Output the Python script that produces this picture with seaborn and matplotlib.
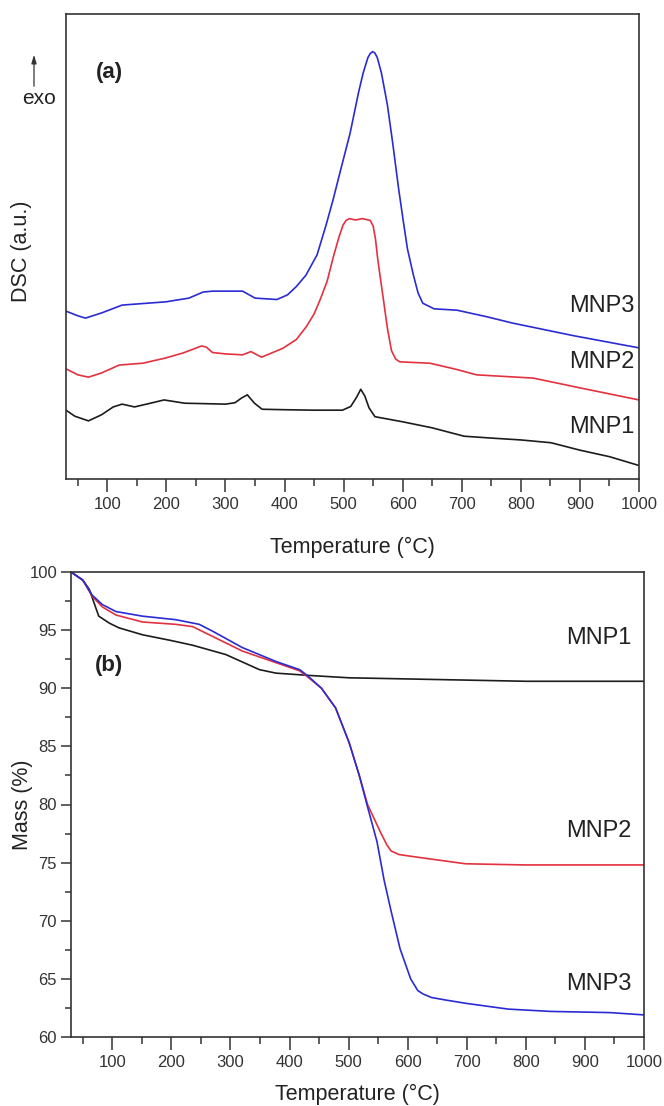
import numpy as np
import pandas as pd
import matplotlib.pyplot as plt
import seaborn as sns
from matplotlib.ticker import MultipleLocator, NullLocator

samples = ['MNP1', 'MNP2', 'MNP3']
colors = {'MNP1': '#1c1c1c', 'MNP2': '#e3313f', 'MNP3': '#2b2bd3'}

# (a) DSC traces, arbitrary units
dsc_t_mnp1 = [30, 45, 68, 90, 110, 125, 146, 173, 196, 231, 300, 316, 327, 337, 349, 362, 400, 450, 498,
              512, 522, 529, 536, 543, 553, 600, 650, 704, 750, 800, 851, 900, 950, 1000]
dsc_mnp1 = [14.8, 13.5, 12.5, 13.8, 15.5, 16.1, 15.5, 16.3, 17.0, 16.3, 16.1, 16.4, 17.4, 18.1, 16.3, 15.0, 14.9,
            14.8, 14.8, 15.6, 17.6, 19.3, 17.8, 15.3, 13.4, 12.3, 11.0, 9.2, 8.8, 8.4, 7.8, 6.2, 4.8, 2.9]

dsc_t_mnp2 = [30, 50, 68, 90, 120, 160, 198, 228, 247, 259, 267, 278, 300, 329, 343, 361, 397, 420, 437, 450,
              460, 472, 482, 492, 499, 504, 510, 520, 532, 545, 550, 554, 558, 567, 574, 581, 588, 595, 646, 690,
              725, 821, 900, 1000]
dsc_mnp2 = [23.7, 22.4, 21.9, 22.8, 24.5, 24.9, 26.0, 27.1, 28.0, 28.6, 28.4, 27.2, 26.9, 26.7, 27.4, 26.2, 28.1,
            30.0, 32.8, 35.5, 38.5, 42.5, 47.5, 52.0, 54.6, 55.6, 56.0, 55.7, 56.0, 55.6, 54.4, 51.5, 47.0, 38.9,
            32.5, 27.6, 25.8, 25.2, 24.9, 23.6, 22.4, 21.7, 19.6, 17.0]

dsc_t_mnp3 = [30, 50, 63, 90, 125, 199, 238, 262, 278, 329, 350, 387, 405, 420, 436, 455, 470, 482, 495, 511,
              525, 533, 541, 545, 549, 553, 557, 564, 574, 583, 593, 600, 608, 618, 626, 634, 653, 692, 742, 787,
              890, 1000]
dsc_mnp3 = [36.1, 35.1, 34.6, 35.7, 37.4, 38.1, 38.9, 40.2, 40.4, 40.4, 38.9, 38.6, 39.6, 41.4, 43.8, 48.2, 54.5,
            60.0, 66.5, 74.4, 83.0, 87.3, 90.6, 91.5, 91.9, 91.6, 90.6, 87.3, 80.5, 72.3, 62.5, 56.3, 49.5, 43.9,
            40.0, 37.8, 36.6, 36.3, 34.9, 33.5, 30.8, 28.2]

# (b) TGA traces, mass in %
tga_t_mnp1 = [30, 50, 61, 77, 95, 111, 151, 200, 236, 292, 349, 377, 434, 500, 600, 700, 800, 900, 1000]
tga_mnp1 = [100, 99.3, 98.5, 96.2, 95.6, 95.2, 94.6, 94.1, 93.7, 92.9, 91.6, 91.3, 91.1, 90.9, 90.8, 90.7,
            90.6, 90.6, 90.6]

tga_t_mnp2 = [30, 50, 66, 83, 106, 151, 207, 236, 264, 320, 377, 417, 430, 454, 478, 501, 518, 532, 554, 565,
              572, 585, 598, 626, 698, 800, 900, 1000]
tga_mnp2 = [100, 99.3, 97.9, 97.0, 96.3, 95.7, 95.5, 95.3, 94.6, 93.2, 92.2, 91.5, 91.0, 90.0, 88.3, 85.3, 82.5,
            80.0, 77.6, 76.5, 76.0, 75.7, 75.6, 75.4, 74.9, 74.8, 74.8, 74.8]

tga_t_mnp3 = [30, 50, 66, 83, 106, 151, 207, 247, 270, 320, 377, 417, 430, 454, 478, 501, 518, 532, 548, 560,
              572, 587, 605, 617, 626, 640, 662, 698, 770, 842, 942, 1000]
tga_mnp3 = [100, 99.3, 98.0, 97.2, 96.6, 96.2, 95.9, 95.5, 94.9, 93.5, 92.3, 91.6, 91.1, 90.0, 88.3, 85.3, 82.5,
            79.8, 76.8, 73.5, 70.8, 67.6, 65.0, 64.0, 63.7, 63.4, 63.2, 62.9, 62.4, 62.2, 62.1, 61.9]

dsc = pd.concat([
    pd.DataFrame({'T': dsc_t_mnp1, 'DSC': dsc_mnp1, 'sample': 'MNP1'}),
    pd.DataFrame({'T': dsc_t_mnp2, 'DSC': dsc_mnp2, 'sample': 'MNP2'}),
    pd.DataFrame({'T': dsc_t_mnp3, 'DSC': dsc_mnp3, 'sample': 'MNP3'}),
], ignore_index=True)
tga = pd.concat([
    pd.DataFrame({'T': tga_t_mnp1, 'Mass': tga_mnp1, 'sample': 'MNP1'}),
    pd.DataFrame({'T': tga_t_mnp2, 'Mass': tga_mnp2, 'sample': 'MNP2'}),
    pd.DataFrame({'T': tga_t_mnp3, 'Mass': tga_mnp3, 'sample': 'MNP3'}),
], ignore_index=True)

sns.set_style('ticks')
plt.rcParams['font.family'] = ['Liberation Sans', 'DejaVu Sans']

W, H = 664, 1106
fig = plt.figure(figsize=(W / 100, H / 100), dpi=100)
ax_a = fig.add_axes([66 / W, 1 - 479 / H, 573 / W, 465 / H])
ax_b = fig.add_axes([71 / W, 1 - 1037 / H, 573 / W, 465 / H])

for ax, df, ycol in [(ax_a, dsc, 'DSC'), (ax_b, tga, 'Mass')]:
    sns.lineplot(data=df, x='T', y=ycol, hue='sample', hue_order=samples, palette=colors,
                 estimator=None, sort=False, legend=False, lw=1.2, ax=ax)
    for sp in ax.spines.values():
        sp.set_color('#333333')
        sp.set_linewidth(1.2)
    ax.set_xlim(30, 1000)
    ax.xaxis.set_major_locator(MultipleLocator(100))
    ax.xaxis.set_minor_locator(MultipleLocator(50))
    ax.set_xticks([100, 200, 300, 400, 500, 600, 700, 800, 900, 1000])
    ax.tick_params(axis='x', which='major', direction='out', length=9, width=1.1, labelsize=12,
                   pad=4, color='#333333', labelcolor='#333333')
    ax.tick_params(axis='x', which='minor', direction='out', length=5, width=1.1, color='#333333')
    ax.set_xlabel('Temperature (°C)', fontsize=15.5, color='#222222')
    ax.xaxis.label.set_va('center')

# (a) DSC
ax_a.set_ylim(0, 100)
ax_a.yaxis.set_major_locator(NullLocator())
ax_a.set_ylabel('DSC (a.u.)', fontsize=15.5, color='#222222')
ax_a.yaxis.label.set_va('center')
ax_a.yaxis.set_label_coords(-0.077, 0.49)
ax_a.xaxis.set_label_coords(0.5, -0.148)
ax_a.text(0.052, 0.875, '(a)', transform=ax_a.transAxes, fontsize=16, fontweight='bold',
          ha='left', va='center', color='#222222')
for name, yv in zip(samples, [11.2, 25.2, 37.1]):
    ax_a.text(993, yv, name, fontsize=17, ha='right', va='center', color='#222222')
ax_a.annotate('', xy=(34, H - 52), xytext=(34, H - 89), xycoords='figure pixels',
              textcoords='figure pixels',
              arrowprops=dict(arrowstyle='-|>,head_length=0.5,head_width=0.15', lw=0.9, color='#333333'))
fig.text(39 / W, 1 - 98 / H, 'exo', fontsize=15, ha='center', va='center', color='#222222')

# (b) TGA
ax_b.set_ylim(60, 100)
ax_b.yaxis.set_major_locator(MultipleLocator(5))
ax_b.yaxis.set_minor_locator(MultipleLocator(2.5))
ax_b.tick_params(axis='y', which='major', direction='out', length=7, width=1.1, labelsize=12,
                 pad=3, color='#333333', labelcolor='#333333')
ax_b.tick_params(axis='y', which='minor', direction='out', length=4, width=1.1, color='#333333')
ax_b.set_ylabel('Mass (%)', fontsize=15.5, color='#222222')
ax_b.yaxis.label.set_va('center')
ax_b.yaxis.set_label_coords(-0.084, 0.5)
ax_b.xaxis.set_label_coords(0.5, -0.123)
ax_b.text(0.042, 0.80, '(b)', transform=ax_b.transAxes, fontsize=16, fontweight='bold',
          ha='left', va='center', color='#222222')
for name, yv in zip(samples, [94.3, 77.7, 64.6]):
    ax_b.text(978, yv, name, fontsize=17, ha='right', va='center', color='#222222')

fig.savefig('out.png', dpi=100)
